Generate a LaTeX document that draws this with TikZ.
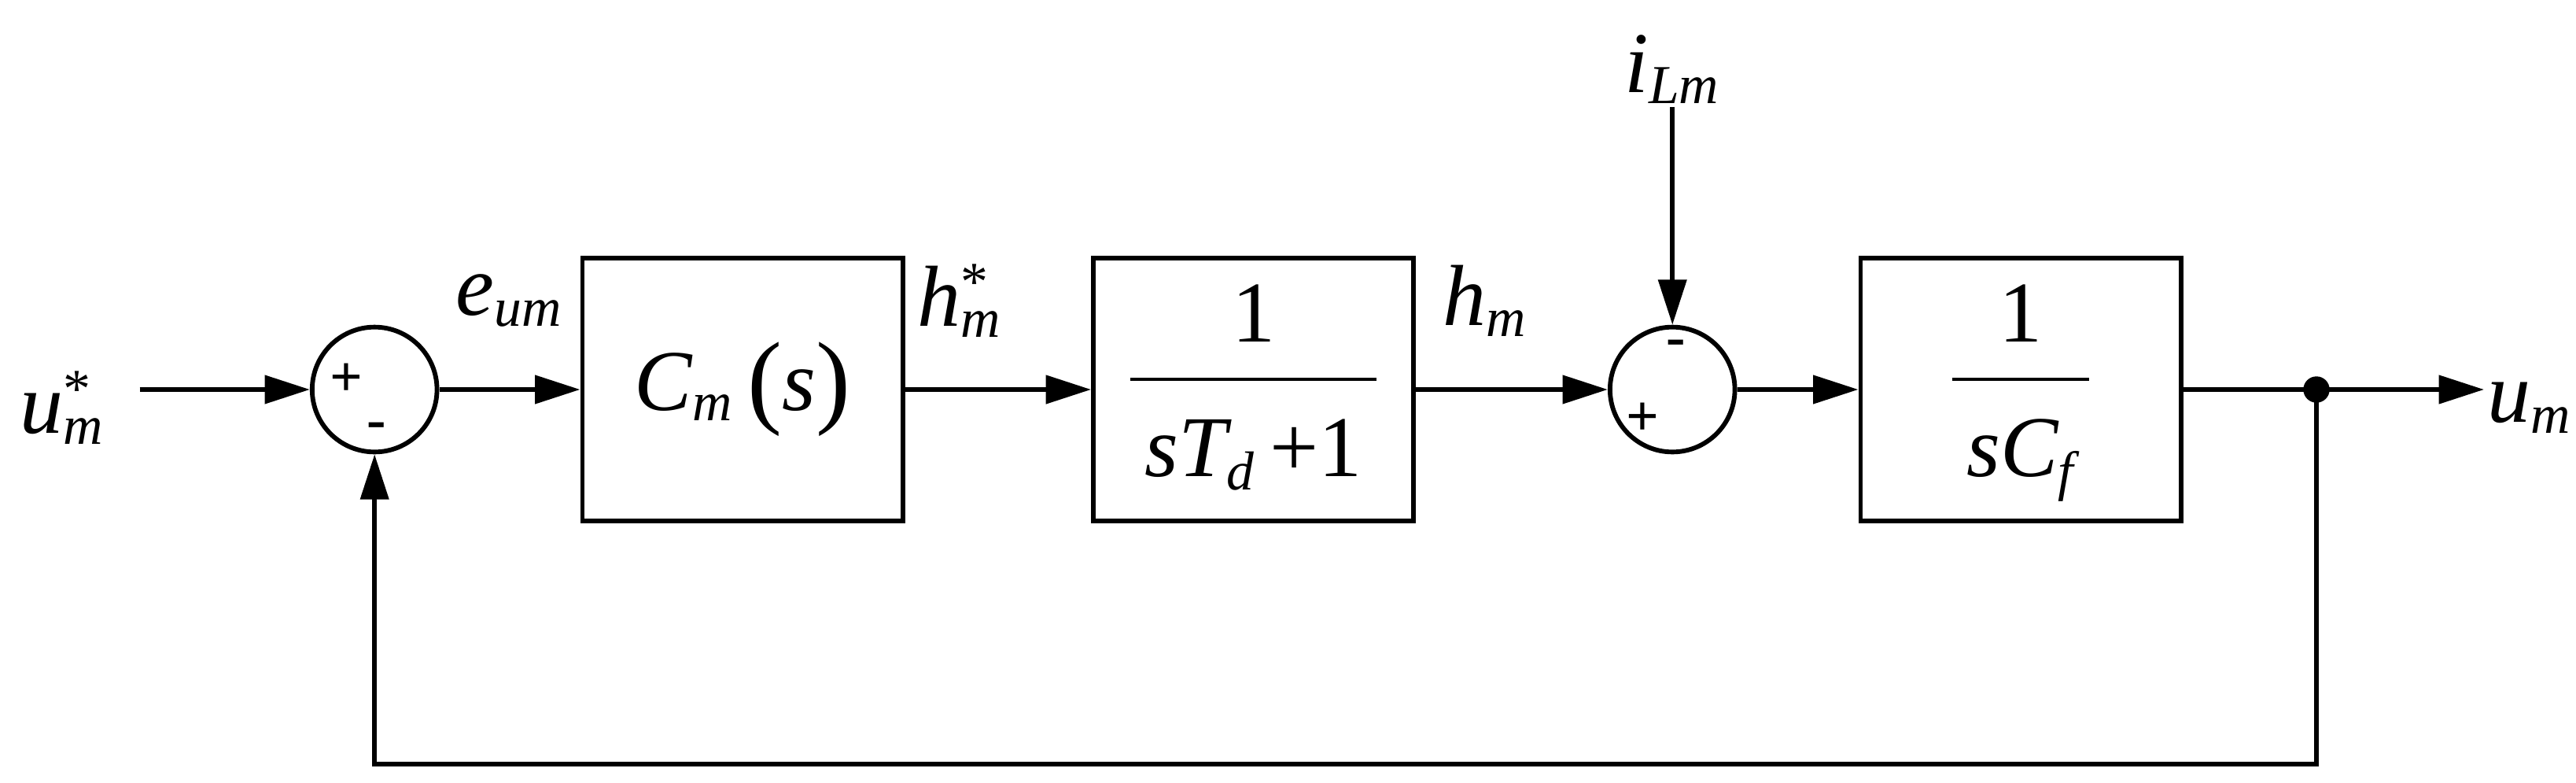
\documentclass[tikz,border=0pt]{standalone}
\usepackage{fontspec}
\setmainfont{Liberation Serif}
\usetikzlibrary{arrows.meta}
\newcommand{\sbs}[1]{\textsubscript{\fontsize{19}{19}\selectfont\itshape #1}}
\newcommand{\sps}[1]{\rlap{\textsuperscript{\fontsize{19}{19}\selectfont\upshape #1}}}
\begin{document}
\begin{tikzpicture}[x=0.02cm,y=-0.02cm,
  ln/.style={line width=1.6pt},
  arr/.style={ln,-{Triangle[length=0.55cm,width=0.34cm]}},
  blk/.style={draw,line width=1.6pt,minimum width=3.9cm,minimum height=3.2cm,inner sep=0pt,font=\fontsize{30}{34}\selectfont\itshape},
  sumc/.style={draw,circle,line width=1.6pt,minimum size=1.52cm,inner sep=0pt},
  lbl/.style={font=\fontsize{30}{32}\selectfont\itshape},
  sg/.style={font=\fontsize{20}{20}\selectfont\bfseries}]
\useasboundingbox (0,0) rectangle (1568,476);
\setlength{\arrayrulewidth}{1.2pt}
\node[sumc] (s1) at (228,237) {};
\node[blk] (b1) at (452,237) {C\sbs{m}\,\raisebox{-0.05em}{\upshape\fontsize{36}{36}\selectfont(}s\raisebox{-0.05em}{\upshape\fontsize{36}{36}\selectfont)}};
\node[blk] (b2) at (763,237) {\begin{tabular}{@{\,}c@{\,}}\upshape 1\\[2pt]\hline\rule{0pt}{1.1em}sT\sbs{d}\,\upshape+1\end{tabular}};
\node[sumc] (s2) at (1018,237) {};
\node[blk] (b3) at (1230,237) {\begin{tabular}{@{\,}c@{\,}}\upshape 1\\[2pt]\hline\rule{0pt}{1.1em}sC\sbs{f}\end{tabular}};
\coordinate (in) at (85,237);
\coordinate (dot) at (1410,237);
\coordinate (out) at (1512,237);
\coordinate (top) at (1018,65);
\coordinate (fb1) at (1410,465);
\coordinate (fb2) at (228,465);
\fill (dot) circle (0.16cm);
\draw[arr] (in) -- (s1.west);
\draw[arr] (s1.east) -- (b1.west);
\draw[arr] (b1.east) -- (b2.west);
\draw[arr] (b2.east) -- (s2.west);
\draw[arr] (s2.east) -- (b3.west);
\draw[ln] (b3.east) -- (dot);
\draw[arr] (dot) -- (out);
\draw[arr] (top) -- (s2.north);
\draw[arr] (dot) -- (fb1) -- (fb2) -- (s1.south);
\node[sg] at (211,231) {+};
\node[sg] at (229,262) {-};
\node[sg] at (1000,255) {+};
\node[sg] at (1020,212) {-};
\node[lbl] at (38,248) {u\sps{*}\sbs{m}};
\node[lbl] at (310,183) {e\sbs{um}};
\node[lbl] at (584,183) {h\sps{*}\sbs{m}};
\node[lbl] at (904,183) {h\sbs{m}};
\node[lbl] at (1018,42) {i\sbs{Lm}};
\node[lbl] at (1540,248) {u\sbs{m}};
\end{tikzpicture}
\end{document}
